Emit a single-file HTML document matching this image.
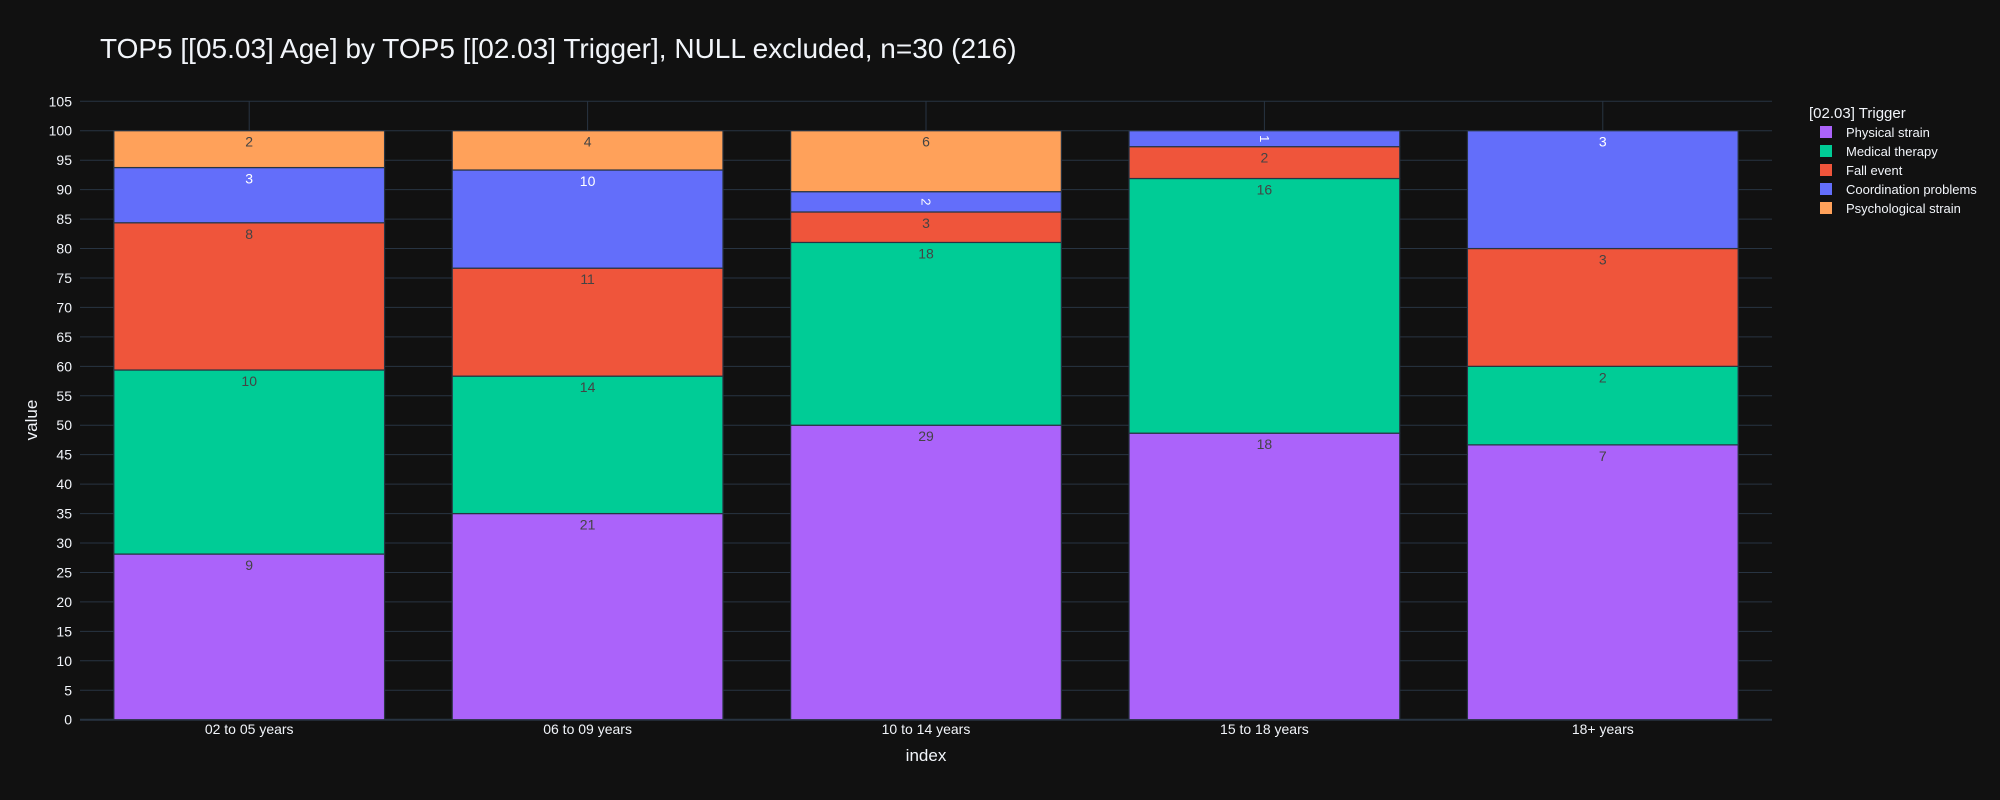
<!DOCTYPE html>
<html><head><meta charset="utf-8"><style>
body{margin:0;background:#111111;}
svg{display:block;font-family:"Liberation Sans",sans-serif;}
</style></head><body>
<svg id="chart" width="2000" height="800" viewBox="0 0 2000 800">
<rect width="2000" height="800" fill="#111111"/>
<text x="100" y="58" fill="#f2f5fa" font-size="28">TOP5 [[05.03] Age] by TOP5 [[02.03] Trigger], NULL excluded, n=30 (216)</text>
<g id="grid"></g><g id="bars"></g><g id="labels"></g><g id="axes"></g>
<text transform="translate(37,420) rotate(-90)" text-anchor="middle" fill="#f2f5fa" font-size="17">value</text>
<text x="926" y="761" text-anchor="middle" fill="#f2f5fa" font-size="17">index</text>
<g id="legend"></g>
</svg>
<script>
const categories=["02 to 05 years","06 to 09 years","10 to 14 years","15 to 18 years","18+ years"];
const seriesNames=["Physical strain","Medical therapy","Fall event","Coordination problems","Psychological strain"];
const physical=[9,21,29,18,7];
const medical=[10,14,18,16,2];
const fall=[8,11,3,2,3];
const coordination=[3,10,2,1,3];
const psychological=[2,4,6,0,0];
const yTicks=[0,5,10,15,20,25,30,35,40,45,50,55,60,65,70,75,80,85,90,95,100,105];
const colors=["#ab63fa","#00cc96","#ef553b","#636efa","#ffa15a"];
const labelColors=["#444","#444","#444","#fff","#444"];
const series=[physical,medical,fall,coordination,psychological];
const NS="http://www.w3.org/2000/svg";
const X0=80,X1=1772,Y0=719.7,Y105=101.3;
const y=v=>Y0-(v/105)*(Y0-Y105);
const band=(X1-X0)/categories.length;
const xc=i=>X0+band*(i+0.5);
const bw=band*0.8;
function mk(tag,attrs,parent){const e=document.createElementNS(NS,tag);for(const k in attrs)e.setAttribute(k,attrs[k]);parent.appendChild(e);return e;}
const grid=document.getElementById('grid'),bars=document.getElementById('bars'),labels=document.getElementById('labels'),axes=document.getElementById('axes'),legend=document.getElementById('legend');
yTicks.forEach(t=>{
 const l=mk('line',{x1:X0,x2:X1,y1:y(t),y2:y(t),stroke:'#283442','stroke-width':t===0?2:1},grid);
 
 
 const tx=mk('text',{x:X0-8,y:y(t)+5,'text-anchor':'end',fill:'#f2f5fa','font-size':14},axes);
 tx.textContent=t;
 
 
});
categories.forEach((c,i)=>{
 const l=mk('line',{x1:xc(i),x2:xc(i),y1:Y105,y2:Y0,stroke:'#283442','stroke-width':1},grid);
 
 
 const tx=mk('text',{x:xc(i),y:734,'text-anchor':'middle',fill:'#f2f5fa','font-size':14},axes);
 tx.textContent=c;
 
 
 const total=series.reduce((s,a)=>s+a[i],0);
 let cum=0;
 series.forEach((arr,s)=>{
  const v=arr[i];if(!v)return;
  const pct=v/total*100;
  const top=y(cum+pct),bot=y(cum);
  const r=mk('rect',{x:xc(i)-bw/2,y:top,width:bw,height:bot-top,fill:colors[s],stroke:'#283442','stroke-width':1.2},bars);
  
  
  const h=bot-top;
  let t;
  if(h<22){
   t=mk('text',{x:0,y:0,'text-anchor':'middle',fill:labelColors[s],'font-size':13},labels);
   t.setAttribute('transform',`translate(${xc(i)},${top+h/2}) rotate(90) translate(0,4.5)`);
  } else {
   t=mk('text',{x:xc(i),y:top+16,'text-anchor':'middle',fill:labelColors[s],'font-size':14},labels);
  }
  t.textContent=v;
  
  
  cum+=pct;
 });
});
const lt=mk('text',{x:1809,y:118,fill:'#f2f5fa','font-size':15},legend);
lt.textContent='[02.03] Trigger';


seriesNames.forEach((n,s)=>{
 const g=mk('g',{},legend);
 
 
 const yy=132+s*19;
 mk('rect',{x:1820,y:yy-6,width:12,height:12,fill:colors[s]},g);
 const t=mk('text',{x:1846,y:yy+5,fill:'#f2f5fa','font-size':13},g);
 t.textContent=n;
});
</script>
</body></html>
